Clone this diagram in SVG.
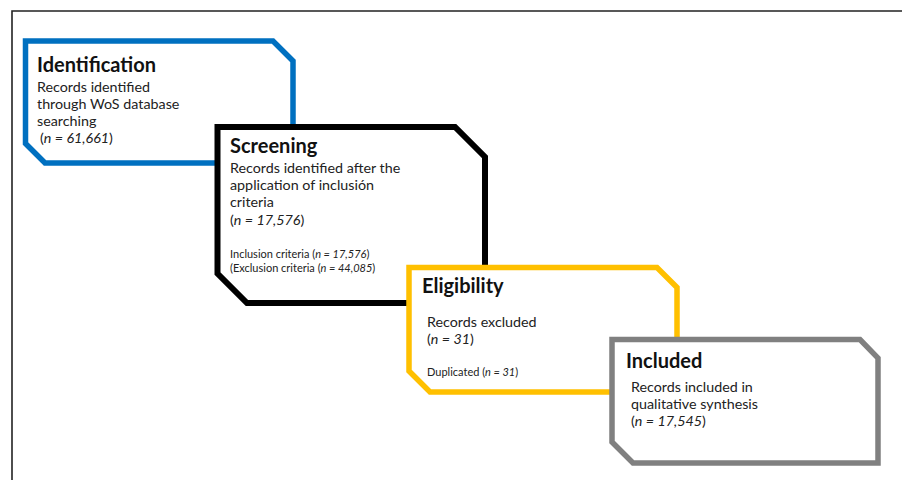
<svg xmlns="http://www.w3.org/2000/svg" width="902" height="480" viewBox="0 0 902 480">
<style>
.box{fill:#fff;stroke-linejoin:miter}
.t{font-family:Lato,"Open Sans","Liberation Sans",sans-serif;font-weight:bold;font-size:20px;fill:#111}
.b{font-family:Lato,"Open Sans","Liberation Sans",sans-serif;font-size:14.3px;fill:#222}
.s{font-family:Lato,"Open Sans","Liberation Sans",sans-serif;font-size:11px;fill:#222}
</style>
<rect width="902" height="480" fill="#fff"/>
<path d="M12,480 V11 H902" fill="none" stroke="#222" stroke-width="1.6"/>
<g id="connectors"></g>
<g id="identification">
<path class="box" d="M25.5,41 H273 L293,61 V163 H45 L25.5,143.5 Z" stroke="#0070C0" stroke-width="5.5"/>
<text class="t" x="37" y="72">Identification</text>
<text class="b" x="37" y="92">Records identified</text>
<text class="b" x="37" y="109">through WoS database</text>
<text class="b" x="37" y="126">searching</text>
<text class="b" x="40" y="143">(<tspan font-style="italic">n = 61,661</tspan>)</text>
</g>
<g id="screening">
<path class="box" d="M217.5,127 H455 L485,157 V303 H247 L217.5,273.5 Z" stroke="#000" stroke-width="6"/>
<text class="t" x="230" y="153">Screening</text>
<text class="b" x="230" y="173">Records identified after the</text>
<text class="b" x="230" y="190">application of inclusión</text>
<text class="b" x="230" y="207">criteria</text>
<text class="b" x="230" y="225">(<tspan font-style="italic">n = 17,576</tspan>)</text>
<text class="s" x="230" y="258">Inclusion criteria (<tspan font-style="italic">n = 17,576</tspan>)</text>
<text class="s" x="230" y="272">(Exclusion criteria (<tspan font-style="italic">n = 44,085</tspan>)</text>
</g>
<g id="eligibility">
<path class="box" d="M409,267.5 H657 L677,287.5 V392 H430 L409,371 Z" stroke="#FFC000" stroke-width="5.5"/>
<text class="t" x="422" y="293">Eligibility</text>
<text class="b" x="427" y="327">Records excluded</text>
<text class="b" x="427" y="344">(<tspan font-style="italic">n = 31</tspan>)</text>
<text class="s" x="427" y="376">Duplicated (<tspan font-style="italic">n = 31</tspan>)</text>
</g>
<g id="included">
<path class="box" d="M612,339.5 H860 L878,358 V463 H633 L612,442 Z" stroke="#808080" stroke-width="5.5"/>
<text class="t" x="626" y="368">Included</text>
<text class="b" x="631" y="392">Records included in</text>
<text class="b" x="631" y="409">qualitative synthesis</text>
<text class="b" x="631" y="426">(<tspan font-style="italic">n = 17,545</tspan>)</text>
</g>
</svg>
